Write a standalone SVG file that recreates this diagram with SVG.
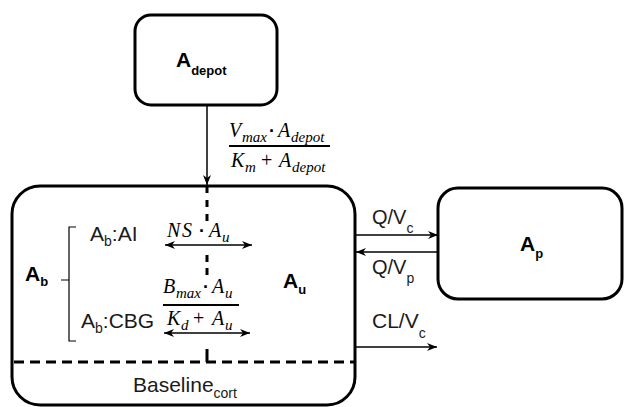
<svg xmlns="http://www.w3.org/2000/svg" width="625" height="407" viewBox="0 0 625 407">
<style>
.box{fill:#fff;stroke:#000;stroke-width:3}
.ln{fill:none;stroke:#000;stroke-width:1.5}
.dash{fill:none;stroke:#000;stroke-width:3}
.lbl{font-family:"Liberation Sans",Arial,sans-serif;font-size:21px;fill:#1a1a1a}
.fl{font-family:"Liberation Sans",Arial,sans-serif;font-size:20px;fill:#1a1a1a}
.big{font-family:"Liberation Sans",Arial,sans-serif;font-size:21px;font-weight:bold;fill:#000}
.bsub{font-family:"Liberation Sans",Arial,sans-serif;font-size:13px;font-weight:bold;fill:#000}
.sub{font-family:"Liberation Sans",Arial,sans-serif;font-size:14px;fill:#1a1a1a}
.m{font-family:"Liberation Serif","DejaVu Serif",serif;font-style:italic;font-size:20px;fill:#000}
.ms{font-family:"Liberation Serif","DejaVu Serif",serif;font-style:italic;font-size:15px;fill:#000}
.op{font-family:"Liberation Serif","DejaVu Serif",serif;font-size:20px;fill:#000}
.dot{font-family:"Liberation Sans",Arial,sans-serif;font-size:18px;font-weight:bold;fill:#000}
</style>
<defs>
<marker id="ah" viewBox="0 0 10 8" refX="10" refY="4" markerWidth="10" markerHeight="8" markerUnits="userSpaceOnUse" orient="auto-start-reverse">
<path d="M0,0 L10,4 L0,8 L3,4 z" fill="#000"/>
</marker>
</defs>

<g id="connectors">
<line class="ln" x1="207" y1="105" x2="207" y2="185" marker-end="url(#ah)"/>
<line class="ln" x1="356" y1="235" x2="438" y2="235" marker-end="url(#ah)"/>
<line class="ln" x1="438" y1="252" x2="356" y2="252" marker-end="url(#ah)"/>
<line class="ln" x1="356" y1="347" x2="437" y2="347" marker-end="url(#ah)"/>
</g>

<g id="node-depot">
<rect class="box" x="135" y="15" width="142" height="90" rx="16"/>
<text class="big" x="176" y="67">A<tspan class="bsub" dy="8">depot</tspan></text>
</g>

<g id="label-vmax">
<text class="m" x="229" y="137">V</text>
<text class="ms" x="242" y="142">max</text>
<text class="dot" x="269" y="137">·</text>
<text class="m" x="278" y="137">A</text>
<text class="ms" x="291" y="142">depot</text>
<line x1="229" y1="146" x2="330" y2="146" stroke="#000" stroke-width="2"/>
<text class="m" x="231" y="167">K</text>
<text class="ms" x="245" y="172">m</text>
<text class="op" x="261" y="167">+</text>
<text class="m" x="279" y="167">A</text>
<text class="ms" x="292" y="172">depot</text>
</g>

<g id="node-central">
<rect class="box" x="12" y="186" width="343" height="219" rx="28"/>
<line class="dash" x1="207" y1="186" x2="207" y2="222" stroke-dasharray="7 7"/>
<line class="dash" x1="207" y1="255" x2="207" y2="280" stroke-dasharray="7 6"/>
<line class="dash" x1="207" y1="349" x2="207" y2="362"/>
<line class="dash" x1="14" y1="362" x2="354" y2="362" stroke-dasharray="10 6"/>
<text class="lbl" x="133" y="392">Baseline<tspan class="sub" dy="6">cort</tspan></text>

<text class="big" x="25" y="281">A<tspan class="bsub" dy="5">b</tspan></text>
<path class="ln" d="M76,227 H69 V341 H76 M69,280 H61" style="stroke-width:1.2"/>
<text class="lbl" x="90" y="241">A<tspan class="sub" dy="5">b</tspan><tspan dy="-5">:AI</tspan></text>
<text class="lbl" x="81" y="328">A<tspan class="sub" dy="5">b</tspan><tspan dy="-5">:CBG</tspan></text>

<text class="m" x="167" y="237">N</text>
<text class="m" x="182" y="237">S</text>
<text class="dot" x="199" y="237">·</text>
<text class="m" x="209" y="237">A</text>
<text class="ms" x="222" y="242">u</text>
<line class="ln" x1="165" y1="245" x2="252" y2="245" marker-start="url(#ah)" marker-end="url(#ah)"/>

<text class="m" x="163" y="293">B</text>
<text class="ms" x="176" y="298">max</text>
<text class="dot" x="203" y="293">·</text>
<text class="m" x="212" y="293">A</text>
<text class="ms" x="225" y="298">u</text>
<line x1="163" y1="305" x2="239" y2="305" stroke="#000" stroke-width="2"/>
<text class="m" x="167" y="325">K</text>
<text class="ms" x="181" y="330">d</text>
<text class="op" x="193" y="325">+</text>
<text class="m" x="212" y="325">A</text>
<text class="ms" x="225" y="330">u</text>
<line class="ln" x1="164" y1="333" x2="250" y2="333" marker-start="url(#ah)" marker-end="url(#ah)"/>

<text class="big" x="283" y="288">A<tspan class="bsub" dy="6">u</tspan></text>
</g>

<g id="node-peripheral">
<rect class="box" x="438" y="188" width="184" height="111" rx="20"/>
<text class="big" x="520" y="251">A<tspan class="bsub" dy="7">p</tspan></text>
</g>

<g id="flow-labels">
<text class="fl" x="372" y="224">Q/V<tspan class="sub" dy="9">c</tspan></text>
<text class="fl" x="372" y="274">Q/V<tspan class="sub" dy="9">p</tspan></text>
<text class="lbl" x="372" y="328">CL/V<tspan class="sub" dy="10">c</tspan></text>
</g>
</svg>
